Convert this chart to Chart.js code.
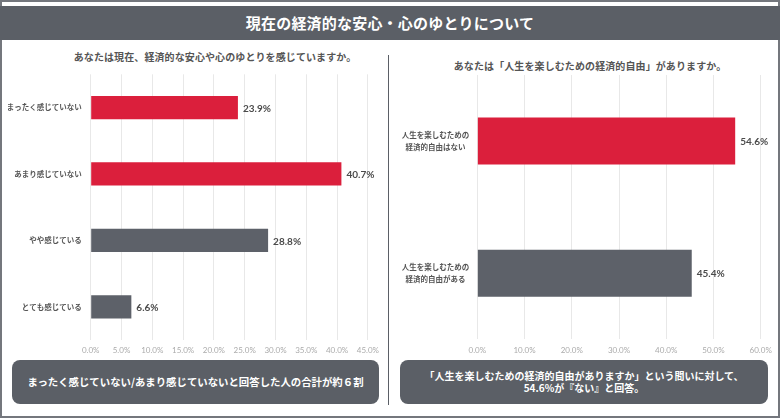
<!DOCTYPE html>
<html lang="ja">
<head>
<meta charset="utf-8">
<title>現在の経済的な安心・心のゆとりについて</title>
<script src="https://cdn.jsdelivr.net/npm/chart.js@4.4.1/dist/chart.umd.min.js"></script>
<style>
  html, body { margin: 0; padding: 0; background: #fff; }
  body { font-family: "Noto Sans CJK JP", "Noto Sans", sans-serif; }
  #page { position: relative; width: 780px; height: 419px; overflow: hidden; }
  .frame { position: absolute; left: 0; top: 0; width: 780px; height: 418px; box-sizing: border-box; border: 2px solid #74777d; }
  .header { position: absolute; left: 0; top: 6px; width: 780px; height: 34px; background: #5b5f66; color: #fff;
    font-weight: bold; font-size: 15px; line-height: 34px; text-align: center; letter-spacing: 0.2px; }
  .divider { position: absolute; left: 387.5px; top: 55px; width: 1.6px; height: 350px; background: #5b5f66; }
  .qtitle { position: absolute; font-size: 10px; font-weight: bold; color: #555; white-space: nowrap;
    transform: translate(-50%, -50%); letter-spacing: 0.1px; }
  .chart-wrap { position: absolute; }
  .note { position: absolute; top: 360px; height: 44px; background: #5b5f66; border-radius: 8px; color: #fff;
    font-weight: bold; font-size: 10.4px; display: flex; align-items: center; justify-content: center;
    text-align: center; line-height: 12px; }
</style>
</head>
<body>
<div id="page">
  <div class="frame"></div>
  <div class="header">現在の経済的な安心・心のゆとりについて</div>
  <div class="divider"></div>

  <div class="qtitle" style="left:215px; top:56px;">あなたは現在、経済的な安心や心のゆとりを感じていますか。</div>
  <div class="qtitle" style="left:590px; top:65px;">あなたは「人生を楽しむための経済的自由」がありますか。</div>

  <div class="chart-wrap" style="left:0; top:44px; width:385px; height:316px;">
    <canvas id="comfortBar"></canvas>
  </div>
  <div class="chart-wrap" style="left:390px; top:44px; width:388px; height:316px;">
    <canvas id="freedomBar"></canvas>
  </div>

  <div class="note" style="left:12px; width:367px;">まったく感じていない/あまり感じていないと回答した人の合計が約６割</div>
  <div class="note" style="left:400px; width:368px; font-size:10px;">「人生を楽しむための経済的自由がありますか」という問いに対して、<br>54.6%が『ない』と回答。</div>
</div>

<script>
// Data (percent)
const comfortLabels = ['まったく感じていない', 'あまり感じていない', 'やや感じている', 'とても感じている'];
const comfortValues = [23.9, 40.7, 28.8, 6.6];
const comfortAxisMax = 45;
const comfortAxisStep = 5;

const freedomLabels = [['人生を楽しむための', '経済的自由はない'], ['人生を楽しむための', '経済的自由がある']];
const freedomValues = [54.6, 45.4];
const freedomAxisMax = 60;
const freedomAxisStep = 10;

const RED = '#db1f3c';
const GRAY = '#5d6169';
const JP_FONT = '"Noto Sans CJK JP", "Noto Sans", sans-serif';
const NUM_FONT = 'Lato, "Noto Sans", sans-serif';

/**
 * Draws the percentage next to each bar.
 */
const valueLabels = {
  id: 'valueLabels',
  afterDatasetsDraw(chart) {
    const { ctx } = chart;
    const meta = chart.getDatasetMeta(0);
    const values = chart.data.datasets[0].data;
    ctx.save();
    ctx.font = 'bold 10px ' + NUM_FONT;
    ctx.fillStyle = '#4b4b4b';
    ctx.textAlign = 'left';
    ctx.textBaseline = 'middle';
    meta.data.forEach((bar, i) => {
      ctx.fillText(values[i].toFixed(1) + '%', bar.x + 5, bar.y + 1);
    });
    ctx.restore();
  }
};

/**
 * Makes a horizontal bar chart.
 * @param {HTMLCanvasElement} canvas
 * @param {Object} cfg
 * @returns {Chart}
 */
function renderBarChart(canvas, cfg) {
  return new Chart(canvas, {
    type: 'bar',
    data: {
      labels: cfg.labels,
      datasets: [
        {
          data: cfg.values,
          // the "negative" answers are red, the rest gray
          backgroundColor: (ctx) => (ctx.dataIndex < cfg.redCount ? RED : GRAY),
          categoryPercentage: 1,
          barPercentage: cfg.barPct
        }
      ]
    },
    options: {
      indexAxis: 'y',
      responsive: true,
      maintainAspectRatio: false,
      animation: false,
      layout: { padding: { top: cfg.padTop, right: cfg.padRight, left: 0, bottom: 0 } },
      plugins: {
        legend: { display: false },
        tooltip: { enabled: false }
      },
      scales: {
        x: {
          min: 0,
          max: cfg.max,
          border: { display: false },
          grid: { color: '#e8e8e8', lineWidth: 1, drawTicks: false },
          afterFit: (scale) => { scale.height = 20; },
          ticks: {
            stepSize: cfg.step,
            padding: 6,
            maxRotation: 0,
            autoSkip: false,
            color: '#ababab',
            font: { family: NUM_FONT, size: 8 },
            callback: (value) => Number(value).toFixed(1) + '%'
          }
        },
        y: {
          border: { display: false },
          grid: { display: false, drawTicks: false },
          afterFit: (scale) => { scale.width = cfg.yWidth; },
          ticks: {
            padding: cfg.labelPad,
            crossAlign: cfg.crossAlign,
            color: '#555',
            font: { family: JP_FONT, size: 7.5, weight: 'bold', lineHeight: 1.7 }
          }
        }
      }
    },
    plugins: [valueLabels]
  });
}

/**
 * Starts everything.
 */
function init() {
  renderBarChart(document.getElementById('comfortBar'), {
    labels: comfortLabels,
    values: comfortValues,
    max: comfortAxisMax,
    step: comfortAxisStep,
    redCount: 2,
    barPct: 0.35,
    padTop: 30.3,
    padRight: 16.7,
    yWidth: 90.7,
    labelPad: 9,
    crossAlign: 'near'
  });
  renderBarChart(document.getElementById('freedomBar'), {
    labels: freedomLabels,
    values: freedomValues,
    max: freedomAxisMax,
    step: freedomAxisStep,
    redCount: 1,
    barPct: 0.355,
    padTop: 31,
    padRight: 17.3,
    yWidth: 87.3,
    labelPad: 8,
    crossAlign: 'center'
  });
}

if (document.readyState === 'loading') {
  document.addEventListener('DOMContentLoaded', init);
} else {
  init();
}
</script>
</body>
</html>
